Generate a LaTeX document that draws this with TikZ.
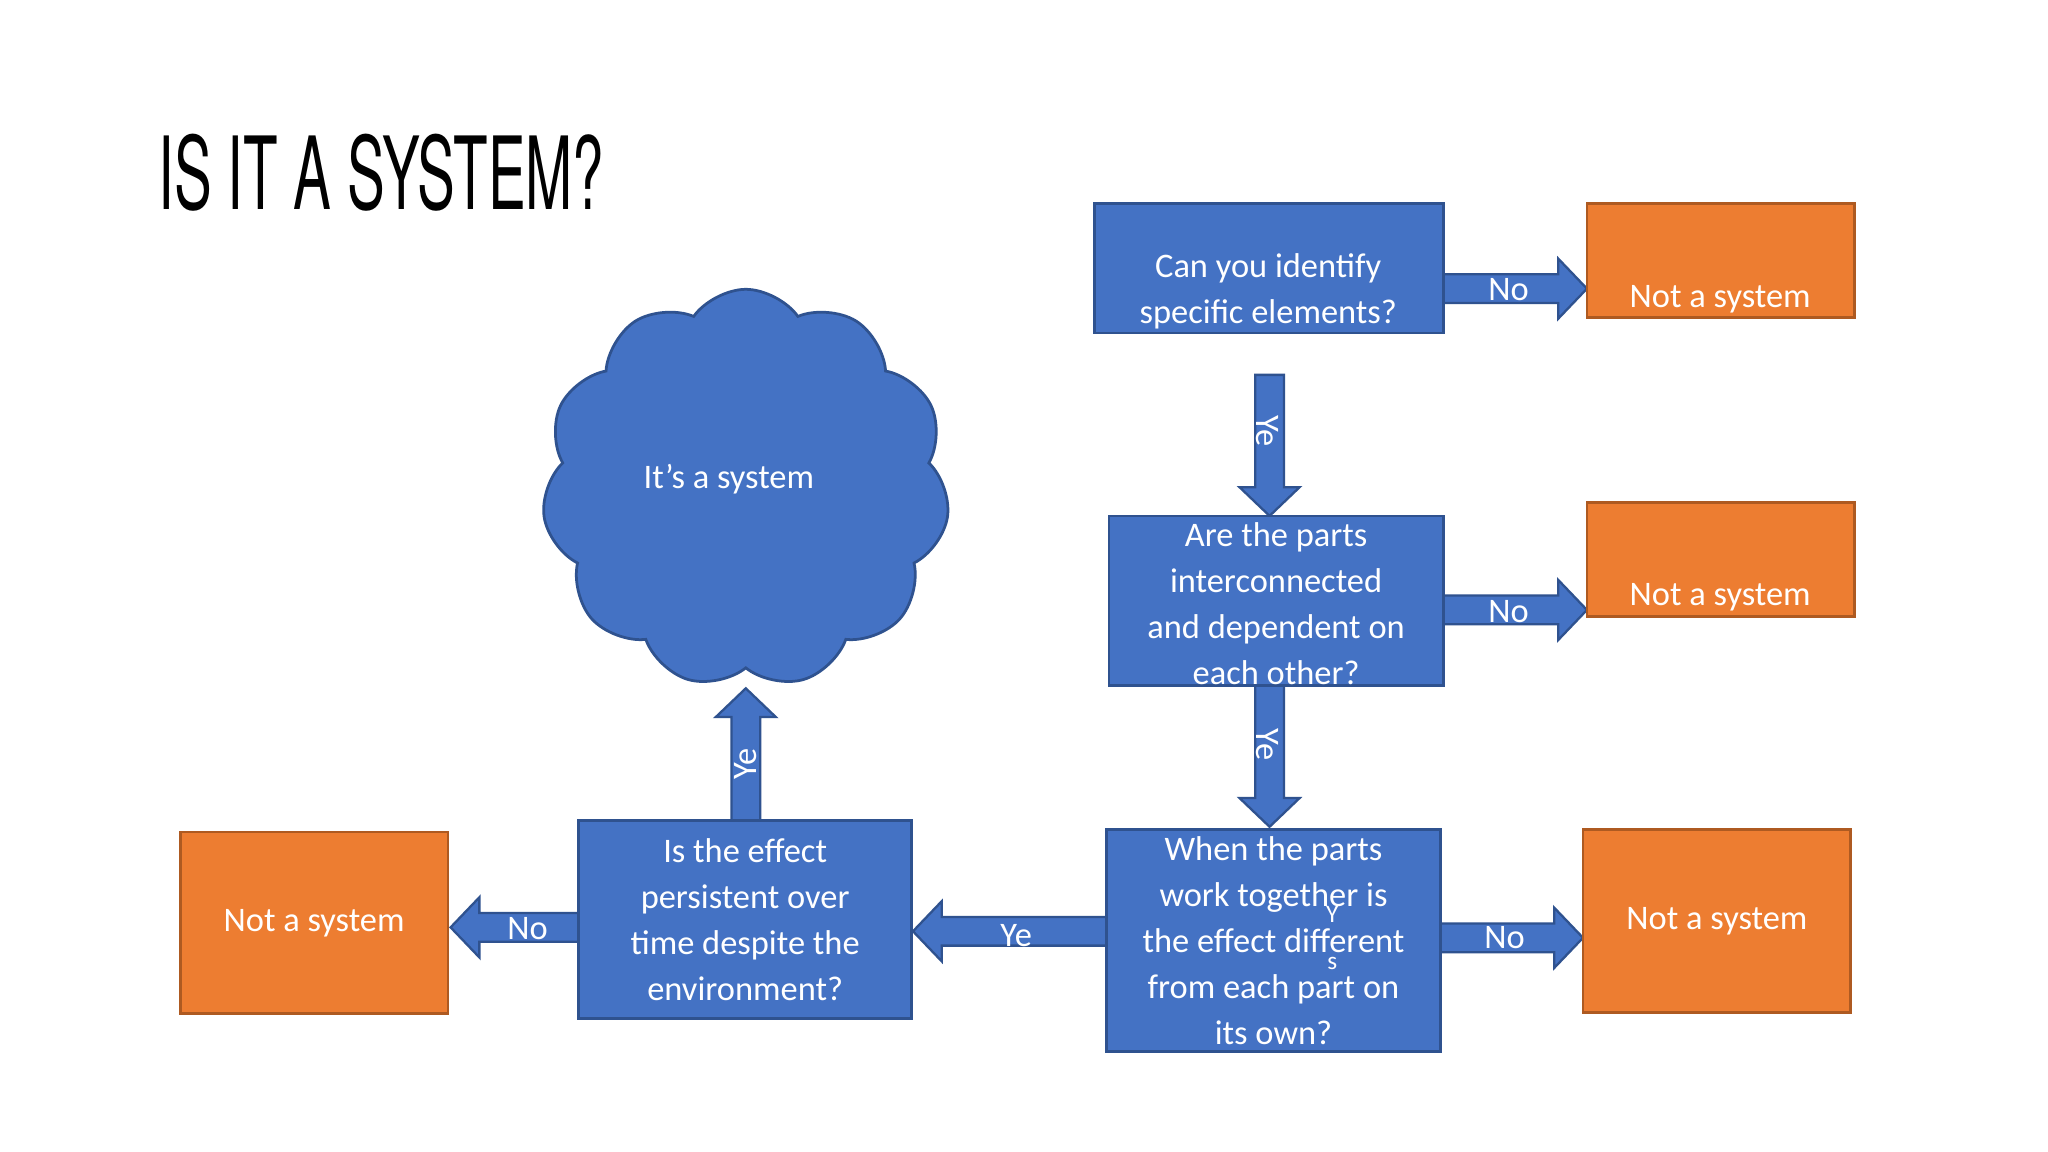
\documentclass[tikz,border=0pt]{standalone}
\usepackage{fontspec}
\setmainfont{Carlito}
\newfontfamily\titlefont{TeX Gyre Heros}
\usetikzlibrary{shapes.symbols}
\definecolor{bl}{HTML}{4472C4}
\definecolor{bld}{HTML}{2F528F}
\definecolor{og}{HTML}{ED7D31}
\definecolor{ogd}{HTML}{AE5A21}
\tikzset{
 q/.style={draw=bld,fill=bl,line width=1.2pt,text=white,align=center,font=\fontsize{15}{20}\selectfont,inner sep=0pt},
 o/.style={draw=ogd,fill=og,line width=1.2pt,text=white,align=center,font=\fontsize{15}{20}\selectfont,inner sep=0pt},
 ar/.style={draw=bld,fill=bl,line width=1pt},
 lb/.style={text=white,font=\fontsize{15}{18}\selectfont,inner sep=0pt},
 tx/.style={text=white,align=center,font=\fontsize{15}{20}\selectfont,inner sep=0pt}
}
\newcommand\harr[4]{\filldraw[ar] ({#1},{#3-11}) -- ({#2-#4},{#3-11}) -- ({#2-#4},{#3-23}) -- ({#2},{#3}) -- ({#2-#4},{#3+23}) -- ({#2-#4},{#3+11}) -- ({#1},{#3+11}) -- cycle;}
\newcommand\varr[4]{\filldraw[ar] ({#1-11},{#2}) -- ({#1-11},{#3-#4}) -- ({#1-23},{#3-#4}) -- ({#1},{#3}) -- ({#1+23},{#3-#4}) -- ({#1+11},{#3-#4}) -- ({#1+11},{#2}) -- cycle;}
\begin{document}
\begin{tikzpicture}[x=0.02cm,y=-0.02cm]
\useasboundingbox[fill=white] (0,0) rectangle (1568,882);
\node[anchor=west,inner sep=0pt] (title) at (121,132) {\titlefont\fontsize{44}{44}\selectfont\scalebox{0.56}[1]{IS IT A SYSTEM?}};
% arrows
\harr{1105}{1215}{221}{22}
\node[lb] (n1) at (1155,222) {No};
\varr{972}{287}{395}{22}
\node[lb,rotate=-90] (y1) at (970,330) {Ye};
\harr{1105}{1215}{467}{22}
\node[lb] (n2) at (1155,468) {No};
\varr{972}{525}{633}{22}
\node[lb,rotate=-90] (y2) at (970,570) {Ye};
\harr{1103}{1212}{718}{22}
\node[lb] (n3) at (1152,718) {No};
\harr{847}{699}{713}{-22}
\node[lb] (y3) at (778,716) {Ye};
\varr{571}{628}{527}{-22}
\node[lb,rotate=90] (y4) at (571,585) {Ye};
\harr{443}{345}{710}{-22}
\node[lb] (n4) at (404,711) {No};
% boxes
\node[q,minimum width=267*0.02cm,minimum height=99*0.02cm] (b1) at (971.5,205.5) {};
\node[tx] at (971,223) {Can you identify\\specific elements?};
\node[o,minimum width=205*0.02cm,minimum height=87*0.02cm] (o1) at (1317.5,199.5) {};
\node[tx] at (1317,229) {Not a system};
\node[q,minimum width=256*0.02cm,minimum height=130*0.02cm] (b2) at (977,460) {};
\node[tx] at (977,462) {Are the parts\\interconnected\\and dependent on\\each other?};
\node[o,minimum width=205*0.02cm,minimum height=87*0.02cm] (o2) at (1317.5,428.5) {};
\node[tx] at (1317,457) {Not a system};
\node[q,minimum width=256*0.02cm,minimum height=170*0.02cm] (b3) at (975,720) {When the parts\\work together is\\the effect different\\from each part on\\its own?};
\node[lb,font=\fontsize{11}{12}\selectfont] at (1020,700) {Y};
\node[lb,font=\fontsize{11}{12}\selectfont] at (1020,738) {s};
\node[o,minimum width=205*0.02cm,minimum height=140*0.02cm] (o3) at (1314.5,705) {Not a system};
\node[q,minimum width=255*0.02cm,minimum height=152*0.02cm] (b4) at (570.5,704) {Is the effect\\persistent over\\time despite the\\environment?};
\node[o,minimum width=205*0.02cm,minimum height=139*0.02cm] (o4) at (240.5,706.5) {Not a system};
\node[cloud,cloud puffs=11,cloud puff arc=110,draw=bld,fill=bl,line width=1.2pt,minimum width=312*0.02cm,minimum height=305*0.02cm,inner sep=0pt] (c) at (571,374) {};
\node[tx] at (558,367) {It’s a system};
\end{tikzpicture}
\end{document}
